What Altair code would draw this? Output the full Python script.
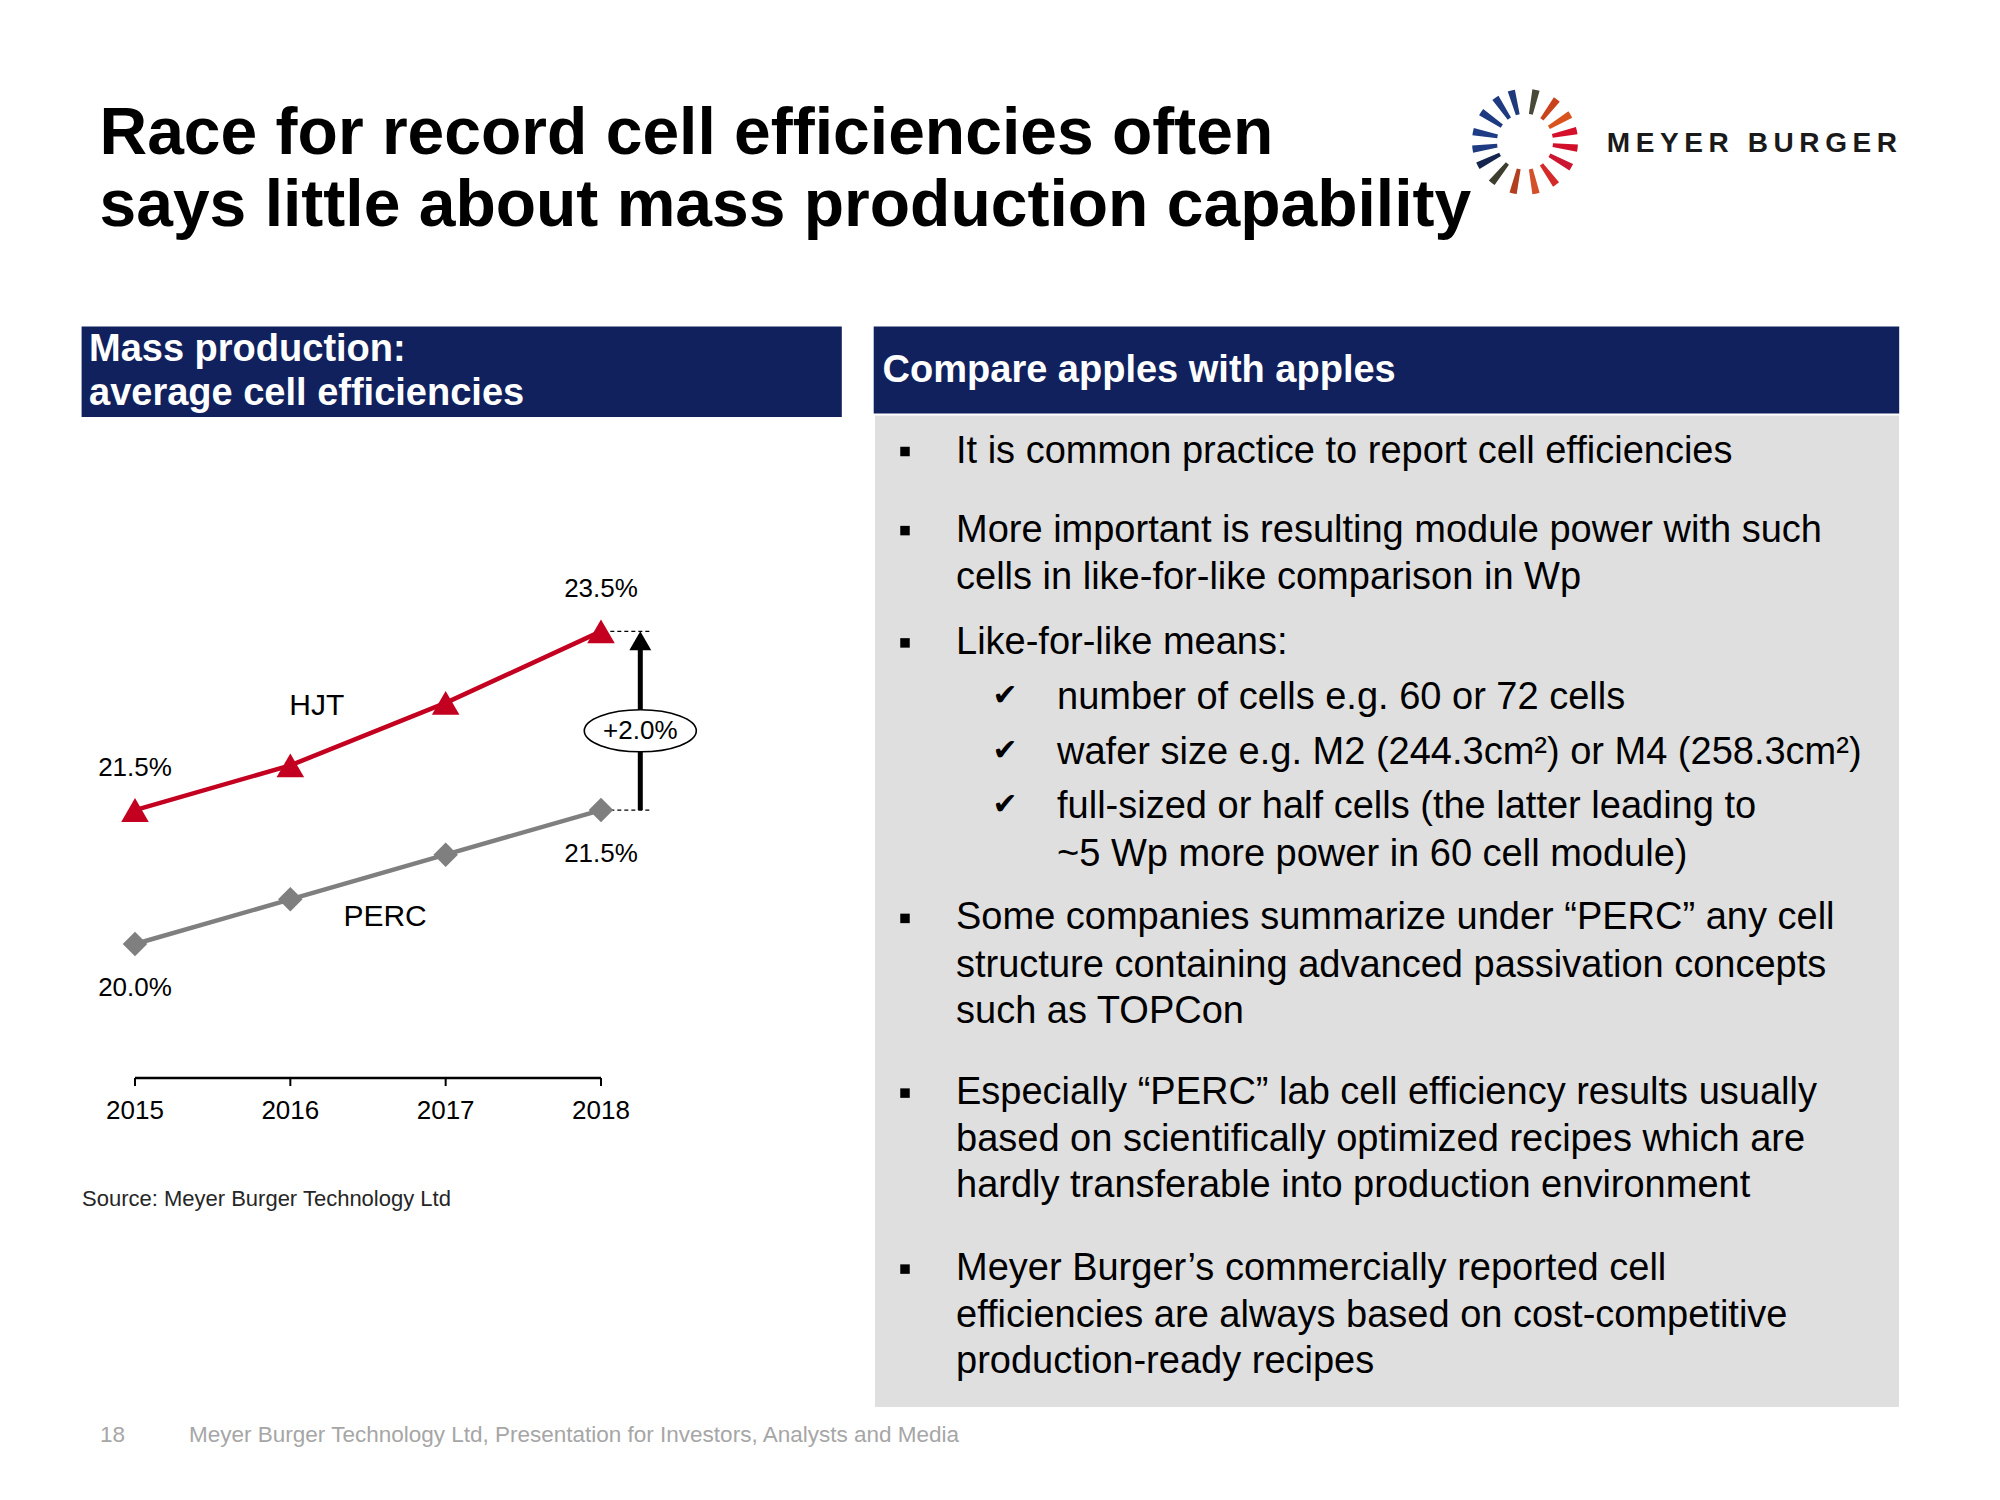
import math
import altair as alt
import pandas as pd

# ---------------- data ----------------
years = [2015, 2016, 2017, 2018]
year_labels = ["2015", "2016", "2017", "2018"]
hjt = [21.5, 22.0, 22.7, 23.5]
perc = [20.0, 20.5, 21.0, 21.5]
series_names = ["HJT", "PERC"]
delta_label = "+2.0%"

title_lines = ["Race for record cell efficiencies often",
               "says little about mass production capability"]
left_header = ["Mass production:", "average cell efficiencies"]
right_header = ["Compare apples with apples"]
body_text = [
    "It is common practice to report cell efficiencies",
    "More important is resulting module power with such",
    "cells in like-for-like comparison in Wp",
    "Like-for-like means:",
    "number of cells e.g. 60 or 72 cells",
    "wafer size e.g. M2 (244.3cm\u00b2) or M4 (258.3cm\u00b2)",
    "full-sized or half cells (the latter leading to",
    "~5 Wp more power in 60 cell module)",
    "Some companies summarize under \u201cPERC\u201d any cell",
    "structure containing advanced passivation concepts",
    "such as TOPCon",
    "Especially \u201cPERC\u201d lab cell efficiency results usually",
    "based on scientifically optimized recipes which are",
    "hardly transferable into production environment",
    "Meyer Burger\u2019s commercially reported cell",
    "efficiencies are always based on cost-competitive",
    "production-ready recipes",
]
body_level = [0, 0, 0, 0, 1, 1, 1, 1, 0, 0, 0, 0, 0, 0, 0, 0, 0]
bullet_rows = [0, 1, 3, 8, 11, 14]
check_rows = [4, 5, 6]
source_text = "Source: Meyer Burger Technology Ltd"
page_number = "18"
footer_text = "Meyer Burger Technology Ltd, Presentation for Investors, Analysts and Media"
brand = "MEYER BURGER"
logo_angles_deg = [345, 12, 37, 59, 78, 97, 119, 144, 168, 193, 219, 243, 262, 281, 304, 326]
logo_colors = ["#1f3a7a", "#4a4838", "#c8441c", "#d9531e", "#d4102a", "#d10f2a", "#cc1530", "#d42a2a",
               "#d4502a", "#b04020", "#3d3d30", "#15254d", "#1e3a80", "#1f3d85", "#1e3a80", "#1e3a80"]

# ---------------- layout (pixels) ----------------
W, H = 1984, 1484
FONT = "Liberation Sans"
NAVY = "#10215e"
PANEL = "#dfdfdf"
RED = "#c3001f"
GREY = "#7f7f7f"

body_y = [443.5, 522.6, 569.8, 634.9, 689.7, 744.5, 799.4, 846.6, 910.4, 957.6,
          1003.5, 1085.1, 1132.3, 1178.2, 1261.1, 1308.3, 1354.2]
XS = alt.Scale(domain=[2015, 2018], range=[127, 593], zero=False, nice=False)
YS = alt.Scale(domain=[18.5, 23.5], range=[1070, 623.4], zero=False, nice=False)


def px_text(texts, xs, ys, size, weight="normal", color="black", align="left", font=FONT, baseline="middle"):
    df = pd.DataFrame({"t": texts, "px": xs, "py": ys})
    return alt.Chart(df).mark_text(
        align=align, baseline=baseline, fontSize=size, fontWeight=weight, color=color, font=font
    ).encode(
        x=alt.X("px:Q", scale=None, axis=None),
        y=alt.Y("py:Q", scale=None, axis=None),
        text="t:N",
    )


def sx(field):
    return alt.X(field, scale=XS, axis=None)


def sy(field):
    return alt.Y(field, scale=YS, axis=None)


layers = []

# background boxes
rects = pd.DataFrame({
    "x": [73.6, 865.7, 867], "x2": [833.8, 1891.2, 1891],
    "y": [318.5, 318.5, 407.5], "y2": [409, 405.5, 1399],
    "c": [NAVY, NAVY, PANEL],
})
layers.append(alt.Chart(rects).mark_rect().encode(
    x=alt.X("x:Q", scale=None, axis=None), x2="x2:Q",
    y=alt.Y("y:Q", scale=None, axis=None), y2="y2:Q",
    color=alt.Color("c:N", scale=None),
))

# title
layers.append(px_text(title_lines, [91.5, 91.5], [146.3, 217.8], 66, weight="bold", baseline="alphabetic"))

# logo
logo = pd.DataFrame({
    "t0": [math.radians(a - 4) for a in logo_angles_deg],
    "t1": [math.radians(a + 4) for a in logo_angles_deg],
    "c": logo_colors,
})
layers.append(alt.Chart(logo).mark_arc(innerRadius=28, outerRadius=53).encode(
    theta=alt.Theta("t0:Q", scale=None, stack=None), theta2="t1:Q",
    color=alt.Color("c:N", scale=None),
    x=alt.value(1517), y=alt.value(133.7),
))
layers.append(px_text(["\u2009".join(list(brand))], [1598.7], [135.7], 28, weight="bold", color="#1a1a1a"))

# headers
layers.append(px_text(left_header, [81, 81], [341.5, 386], 38, weight="bold", color="white"))
layers.append(px_text(right_header, [874.6], [363.2], 38, weight="bold", color="white"))

# body text
xs_body = [948 if lv == 0 else 1049 for lv in body_level]
layers.append(px_text(body_text, xs_body, body_y, 38))

# bullets and check marks
bullet_y = [body_y[i] for i in bullet_rows]
layers.append(alt.Chart(pd.DataFrame({"py": bullet_y})).mark_square(size=90, color="black", opacity=1).encode(
    x=alt.value(897), y=alt.Y("py:Q", scale=None, axis=None)))
check_y = [body_y[i] - 2 for i in check_rows]
layers.append(px_text(["\u2714"] * len(check_y), [997] * len(check_y), check_y, 30,
                      align="center", font="DejaVu Sans"))

# source and footer
layers.append(px_text([source_text], [74], [1191], 22, color="#262626"))
layers.append(px_text([page_number, footer_text], [92, 181], [1427, 1427], 22.5, color="#a6a6a6"))

# ---------------- chart ----------------
axis_df = pd.DataFrame({"x": [years[0]], "x2": [years[-1]], "y": [18.5]})
layers.append(alt.Chart(axis_df).mark_rule(color="black", strokeWidth=2.5).encode(
    x=sx("x:Q"), x2="x2:Q", y=sy("y:Q")))
tick_df = pd.DataFrame({"year": years, "y": [18.5] * 4, "y2": [18.41] * 4, "lab": year_labels})
layers.append(alt.Chart(tick_df).mark_rule(color="black", strokeWidth=2).encode(
    x=sx("year:Q"), y=sy("y:Q"), y2="y2:Q"))
layers.append(alt.Chart(tick_df).mark_text(dy=33, fontSize=26, font=FONT, color="black").encode(
    x=sx("year:Q"), y=sy("y:Q"), text="lab:N"))

# dashed guides and arrow
dash_df = pd.DataFrame({"x": [2018.06, 2018.06], "x2": [2018.315, 2018.315], "y": [hjt[-1], perc[-1]]})
layers.append(alt.Chart(dash_df).mark_rule(color="black", strokeWidth=1.3, strokeDash=[4, 3]).encode(
    x=sx("x:Q"), x2="x2:Q", y=sy("y:Q")))
arrow_x = 2018.253
shaft_df = pd.DataFrame({"x": [arrow_x], "y": [perc[-1]], "y2": [hjt[-1] - 0.14]})
layers.append(alt.Chart(shaft_df).mark_rule(color="black", strokeWidth=5).encode(
    x=sx("x:Q"), y=sy("y:Q"), y2="y2:Q"))
head_df = pd.DataFrame({"x": [arrow_x], "y": [hjt[-1] - 0.105]})
layers.append(alt.Chart(head_df).mark_point(shape="triangle-up", size=480, filled=True, color="black",
                                            opacity=1).encode(x=sx("x:Q"), y=sy("y:Q")))

# lines
line_df = pd.DataFrame({"year": years * 2, "eff": hjt + perc,
                        "series": [series_names[0]] * 4 + [series_names[1]] * 4})
hjt_df = line_df[line_df.series == "HJT"]
perc_df = line_df[line_df.series == "PERC"]
layers.append(alt.Chart(perc_df).mark_line(color=GREY, strokeWidth=4.5).encode(x=sx("year:Q"), y=sy("eff:Q")))
layers.append(alt.Chart(hjt_df).mark_line(color=RED, strokeWidth=4.5).encode(x=sx("year:Q"), y=sy("eff:Q")))
layers.append(alt.Chart(perc_df).mark_point(shape="diamond", size=600, filled=True, color=GREY, opacity=1)
              .encode(x=sx("year:Q"), y=sy("eff:Q")))
layers.append(alt.Chart(hjt_df).mark_point(shape="triangle-up", size=760, filled=True, color=RED, opacity=1)
              .encode(x=sx("year:Q"), y=sy("eff:Q")))

# ellipse with delta
ell = ("M-1,0 C-1,-0.2071 -0.5523,-0.375 0,-0.375 C0.5523,-0.375 1,-0.2071 1,0 "
       "C1,0.2071 0.5523,0.375 0,0.375 C-0.5523,0.375 -1,0.2071 -1,0 Z")
ell_df = pd.DataFrame({"x": [arrow_x], "y": [22.387], "lab": [delta_label]})
layers.append(alt.Chart(ell_df).mark_point(shape=ell, size=12544, filled=True, fill="white", stroke="black",
                                           strokeWidth=1.6, opacity=1).encode(x=sx("x:Q"), y=sy("y:Q")))
layers.append(alt.Chart(ell_df).mark_text(fontSize=26, font=FONT, color="black", baseline="middle").encode(
    x=sx("x:Q"), y=sy("y:Q"), text="lab:N"))

# value labels
above_df = pd.DataFrame({"year": [years[0], years[-1]], "eff": [hjt[0], hjt[-1]]})
above_df["lab"] = [f"{v:.1f}%" for v in above_df.eff]
below_df = pd.DataFrame({"year": [years[0], years[-1]], "eff": [perc[0], perc[-1]]})
below_df["lab"] = [f"{v:.1f}%" for v in below_df.eff]
layers.append(alt.Chart(above_df).mark_text(dy=-42, fontSize=26, font=FONT, color="black", baseline="middle")
              .encode(x=sx("year:Q"), y=sy("eff:Q"), text="lab:N"))
layers.append(alt.Chart(below_df).mark_text(dy=44, fontSize=26, font=FONT, color="black", baseline="middle")
              .encode(x=sx("year:Q"), y=sy("eff:Q"), text="lab:N"))

# series labels
name_df = pd.DataFrame({"x": [2016.17, 2016.61], "y": [22.67, 20.30], "lab": series_names})
layers.append(alt.Chart(name_df).mark_text(fontSize=30, font=FONT, color="black", baseline="middle")
              .encode(x=sx("x:Q"), y=sy("y:Q"), text="lab:N"))

chart = alt.layer(*layers).resolve_scale(x="independent", y="independent").properties(
    width=W, height=H, padding=0, autosize="none"
).configure_view(strokeWidth=0)

chart.save("out.html", embed_options={"renderer": "svg", "actions": False})
